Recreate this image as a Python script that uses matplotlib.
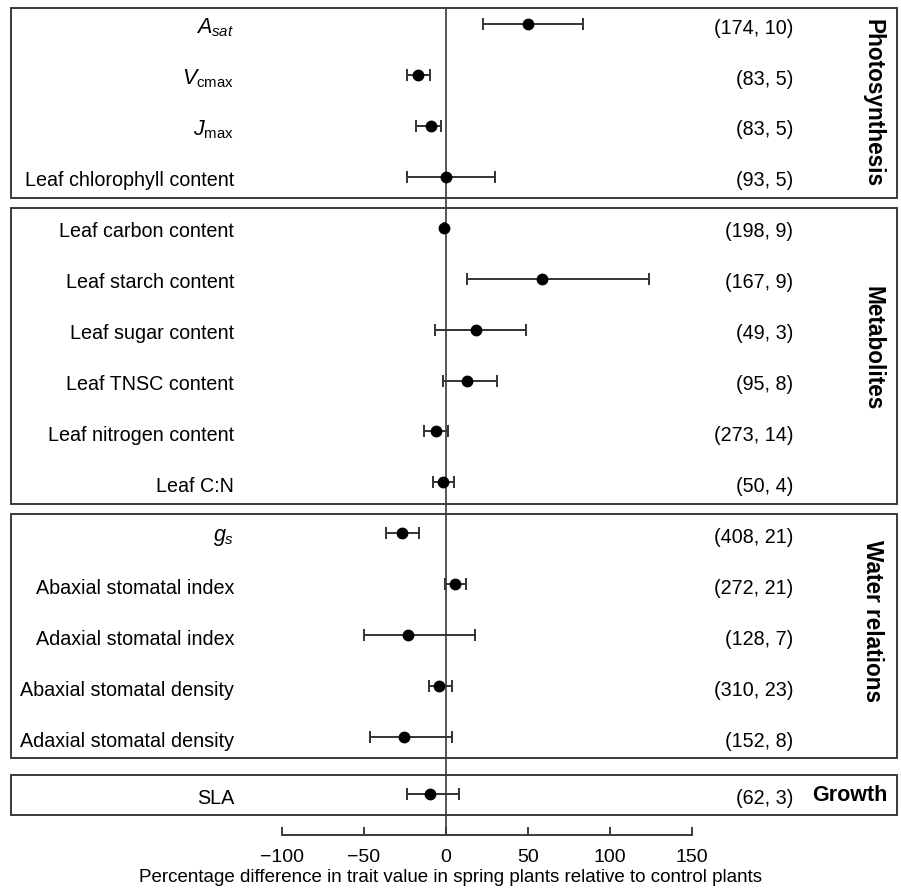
"""Forest plot: percentage difference in leaf traits, spring vs control plants."""
import matplotlib
matplotlib.use("Agg")
import matplotlib.pyplot as plt  # noqa: E402
from matplotlib.patches import Rectangle  # noqa: E402

plt.rcParams["font.family"] = ["Liberation Sans", "DejaVu Sans"]
plt.rcParams["mathtext.fontset"] = "custom"
plt.rcParams["mathtext.rm"] = "Liberation Sans"
plt.rcParams["mathtext.it"] = "Liberation Sans:italic"

# ---- data --------------------------------------------------------------------
traits = [r"$A_{sat}$", r"$V_{\mathrm{cmax}}$", r"$J_{\mathrm{max}}$",
          "Leaf chlorophyll content",
          "Leaf carbon content", "Leaf starch content", "Leaf sugar content",
          "Leaf TNSC content", "Leaf nitrogen content", "Leaf C:N",
          r"$g_s$", "Abaxial stomatal index", "Adaxial stomatal index",
          "Abaxial stomatal density", "Adaxial stomatal density",
          "SLA"]
mean = [50, -17, -9, 0,
        -1, 58.5, 18, 13, -6, -2,
        -27, 5.7, -23, -4, -25.6,
        -9.8]
ci_lo = [22.6, -24, -18.5, -24,
         -1.4, 13, -6.7, -1.8, -13.4, -8,
         -36.5, -0.4, -50, -10.4, -46.5,
         -24]
ci_hi = [83.5, -10, -2.8, 30,
         -0.6, 124, 49, 31, 1.4, 5,
         -16.3, 12, 17.7, 3.5, 3.5,
         8]
counts = ["(174, 10)", "(83, 5)", "(83, 5)", "(93, 5)",
          "(198, 9)", "(167, 9)", "(49, 3)", "(95, 8)", "(273, 14)", "(50, 4)",
          "(408, 21)", "(272, 21)", "(128, 7)", "(310, 23)", "(152, 8)",
          "(62, 3)"]
groups = ["Photosynthesis", "Metabolites", "Water relations", "Growth"]
group_size = [4, 6, 5, 1]
xticks = [-100, -50, 0, 50, 100, 150]
xlabel = "Percentage difference in trait value in spring plants relative to control plants"

# ---- layout -------------------------------------------------------------------
W, H = 901, 896
PX_PER_UNIT = 1.64      # horizontal pixels per percentage point
X0_PX = 446             # pixel column of 0 %
ROW_PX = 50.93          # pixel height of one row
Y0_PX = 24              # pixel row of first trait

ys = list(range(15)) + [15.12]   # growth row sits a little lower
box_left, box_right = (11 - X0_PX) / PX_PER_UNIT, (897 - X0_PX) / PX_PER_UNIT
axis_y = (835 - Y0_PX) / ROW_PX
label_x = (234 - X0_PX) / PX_PER_UNIT
count_x = (793 - X0_PX) / PX_PER_UNIT
group_x = (873 - X0_PX) / PX_PER_UNIT
growth_x = (888 - X0_PX) / PX_PER_UNIT
text_dy = 0.08          # labels sit slightly below the markers
group_dy = [0, -0.16, -0.3, 0]

fig = plt.figure(figsize=(W / 100, H / 100), dpi=100)
ax = fig.add_axes([0, 0, 1, 1])
ax.set_xlim(-X0_PX / PX_PER_UNIT, (W - X0_PX) / PX_PER_UNIT)
ax.set_ylim((H - Y0_PX) / ROW_PX, -Y0_PX / ROW_PX)

edge = "#3a3a3a"
FS = 14.2

# group boxes + group names
start = 0
box_top0 = None
for name, n, dy in zip(groups, group_size, group_dy):
    top = ys[start] - (0.31 if start == 0 else 0.38)
    bot = ys[start + n - 1] + 0.42
    if box_top0 is None:
        box_top0 = top
    ax.add_patch(Rectangle((box_left, top), box_right - box_left, bot - top,
                           fill=False, edgecolor=edge, lw=1.4, zorder=1))
    mid = (top + bot) / 2 + dy
    if n > 1:
        ax.text(group_x, mid, name, rotation=-90, ha="center", va="center",
                fontsize=16.3, fontweight="bold")
    else:
        ax.text(growth_x, mid, name, ha="right", va="center",
                fontsize=15.5, fontweight="bold")
    start += n

# zero reference line
ax.vlines(0, box_top0, axis_y, color=edge, lw=1.2, zorder=2)

# estimates with confidence intervals
xerr = [[m - lo for m, lo in zip(mean, ci_lo)],
        [hi - m for m, hi in zip(mean, ci_hi)]]
ax.errorbar(mean, ys, xerr=xerr, fmt="o", color="black", ecolor="#333333",
            elinewidth=1.4, capsize=4.5, capthick=1.4, markersize=7.5, zorder=3)

for y, t, c in zip(ys, traits, counts):
    fs = 15.5 if t.startswith("$") else FS
    ax.text(label_x, y + text_dy, t, ha="right", va="center", fontsize=fs)
    ax.text(count_x, y + text_dy, c, ha="right", va="center", fontsize=FS)

# x axis: only the bottom spine, clipped to the tick range
for s in ["top", "left", "right"]:
    ax.spines[s].set_visible(False)
ax.spines["bottom"].set_position(("data", axis_y))
ax.spines["bottom"].set_bounds(xticks[0], xticks[-1])
ax.spines["bottom"].set_linewidth(1.4)
ax.spines["bottom"].set_color(edge)
ax.set_xticks(xticks)
ax.tick_params(axis="x", direction="in", length=6, width=1.4, color=edge,
               pad=10, labelsize=14)
ax.set_yticks([])
ax.set_xlabel(xlabel, fontsize=13.5, labelpad=2)

fig.savefig("out.png", dpi=100)
plt.close(fig)
